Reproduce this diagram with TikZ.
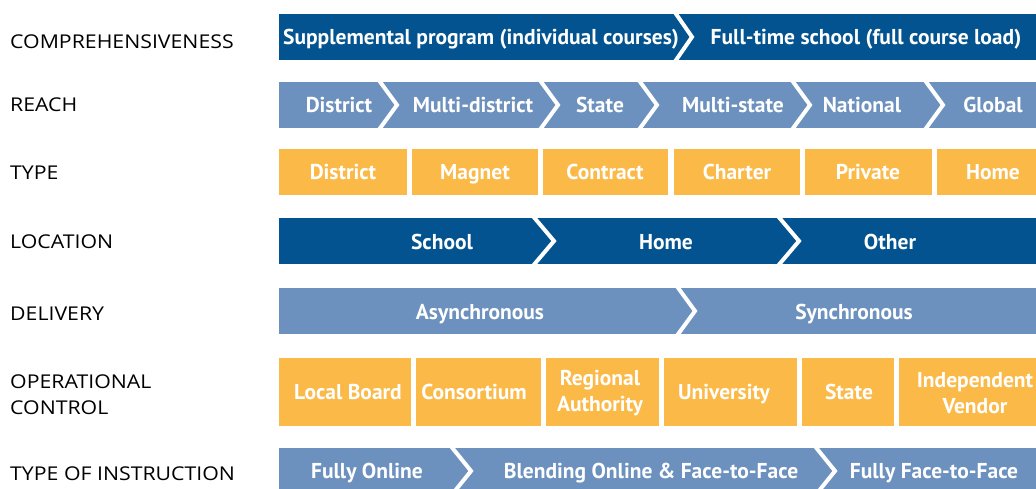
\documentclass[tikz,border=0pt]{standalone}
\usepackage{fontspec}
\newfontfamily\lblfont[FakeStretch=1.12]{Open Sans}
\newfontfamily\boxfont{PT Sans}
\definecolor{dkblue}{RGB}{2,83,143}
\definecolor{ltblue}{RGB}{108,145,190}
\definecolor{orng}{RGB}{251,185,72}
\tikzset{
  chev/.style={draw=white,line width=4pt,line join=miter,miter limit=10},
  seg/.style={inner sep=0pt,text=white,font=\boxfont\bfseries\fontsize{21.5}{26}\selectfont,text height=15pt,text depth=0pt,align=center},
  seg2/.style={inner sep=0pt,text=white,font=\boxfont\bfseries\fontsize{21.5}{26}\selectfont,align=center},
  rowlbl/.style={anchor=west,inner sep=0pt,text=black,font=\lblfont\fontsize{19}{26}\selectfont,text height=14pt,text depth=0pt,align=left},
  boxr/.style={fill=orng}
}
\begin{document}
\begin{tikzpicture}[x=1pt,y=-1pt]
\useasboundingbox (0,0) rectangle (1036,489);
\clip (0,0) rectangle (1036,489);
% row labels
\node[rowlbl] (l1) at (10,42) {COMPREHENSIVENESS};
\node[rowlbl] (l2) at (10,105) {REACH};
\node[rowlbl] (l3) at (10,173) {TYPE};
\node[rowlbl] (l4) at (10,241) {LOCATION};
\node[rowlbl] (l5) at (10,313) {DELIVERY};
\node[rowlbl,anchor=north west,text height=,text depth=] (l6) at (10,375) {OPERATIONAL\\CONTROL};
\node[rowlbl] (l7) at (10,473) {TYPE OF INSTRUCTION};
% row 1: comprehensiveness
\fill[dkblue] (279,14) rectangle (1036,60);
\draw[chev] (674,11) -- (692,37) -- (674,63);
\node[seg] (c1) at (481,37) {Supplemental program (individual courses)};
\node[seg] (c2) at (866,37) {Full-time school (full course load)};
% row 2: reach
\fill[ltblue] (279,82) rectangle (1036,128);
\foreach \c in {378,539,638,791,924}{
  \draw[chev] (\c,79) -- (\c+19,105) -- (\c,131);
}
\node[seg] (r1) at (339,105) {District};
\node[seg] (r2) at (473,105) {Multi-district};
\node[seg] (r3) at (600,105) {State};
\node[seg] (r4) at (733,105) {Multi-state};
\node[seg] (r5) at (862,105) {National};
\node[seg] (r6) at (993,105) {Global};
% row 3: type
\fill[boxr] (279,149) rectangle (407,195);
\fill[boxr] (412,149) rectangle (538,195);
\fill[boxr] (543,149) rectangle (668,195);
\fill[boxr] (674,149) rectangle (800,195);
\fill[boxr] (805,149) rectangle (932,195);
\fill[boxr] (937,149) rectangle (1036,195);
\node[seg] (t1) at (343,172) {District};
\node[seg] (t2) at (475,172) {Magnet};
\node[seg] (t3) at (605,172) {Contract};
\node[seg] (t4) at (737,172) {Charter};
\node[seg] (t5) at (868,172) {Private};
\node[seg] (t6) at (993,172) {Home};
% row 4: location
\fill[dkblue] (279,218) rectangle (1036,264);
\draw[chev] (532,215) -- (554,241) -- (532,267);
\draw[chev] (777,215) -- (799,241) -- (777,267);
\node[seg] (o1) at (442,242) {School};
\node[seg] (o2) at (666,242) {Home};
\node[seg] (o3) at (890,242) {Other};
% row 5: delivery
\fill[ltblue] (279,288) rectangle (1036,334);
\draw[chev] (676,285) -- (695,311) -- (676,337);
\node[seg] (d1) at (480,312) {Asynchronous};
\node[seg] (d2) at (854,312) {Synchronous};
% row 6: operational control
\fill[boxr] (279,358) rectangle (411,426);
\fill[boxr] (416,358) rectangle (541,426);
\fill[boxr] (546,358) rectangle (659,426);
\fill[boxr] (664,358) rectangle (797,426);
\fill[boxr] (802,358) rectangle (894,426);
\fill[boxr] (899,358) rectangle (1036,426);
\node[seg] (p1) at (348,392) {Local Board};
\node[seg] (p2) at (474,392) {Consortium};
\node[seg2] (p3) at (600,393) {Regional\\Authority};
\node[seg] (p4) at (724,392) {University};
\node[seg] (p5) at (849,392) {State};
\node[seg2] (p6) at (975,393) {Independent\\Vendor};
% row 7: type of instruction
\fill[ltblue] (279,448) rectangle (1036,494);
\draw[chev] (450,445) -- (471,471) -- (450,497);
\draw[chev] (814,445) -- (835,471) -- (814,497);
\node[seg] (i1) at (367,471) {Fully Online};
\node[seg] (i2) at (651,471) {Blending Online \& Face-to-Face};
\node[seg] (i3) at (934,471) {Fully Face-to-Face};
\end{tikzpicture}
\end{document}
